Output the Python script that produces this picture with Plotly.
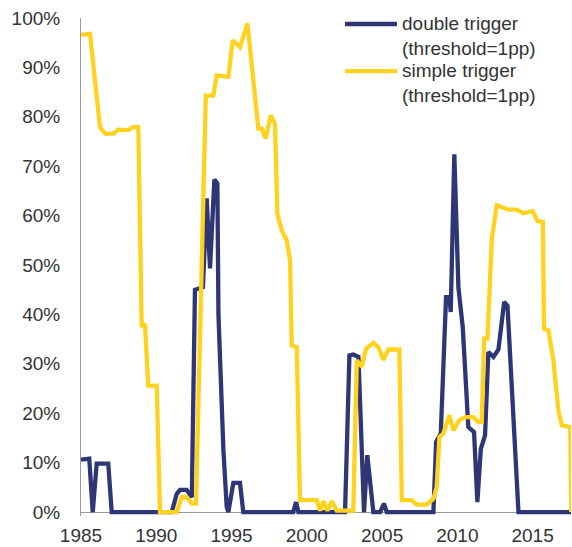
import plotly.graph_objects as go

# double trigger (threshold=1pp)
years_double = [1985.0, 1985.55, 1985.78, 1986.04, 1986.81, 1987.04, 1991.03, 1991.36, 1991.58,
                1992.02, 1992.36, 1992.57, 1993.1, 1993.35, 1993.57, 1993.86, 1994.06, 1994.13,
                1994.25, 1994.46, 1994.68, 1994.79, 1995.12, 1995.56, 1995.78, 1999.1, 1999.29,
                1999.44, 2002.54, 2002.83, 2003.09, 2003.43, 2003.8, 2004.02, 2004.42, 2004.87,
                2005.13, 2005.31, 2008.41, 2008.59, 2008.9, 2009.25, 2009.47, 2009.56, 2009.8,
                2010.07, 2010.36, 2010.73, 2011.11, 2011.33, 2011.56, 2011.84, 2012.06, 2012.4,
                2012.73, 2013.11, 2013.33, 2014.06, 2017.6]
values_double = [10.6, 10.8, 0, 9.8, 9.8, 0, 0, 3.7, 4.5,
                 4.5, 3.0, 45.0, 45.5, 63.5, 49.3, 67.3, 66.5, 40.0,
                 30.0, 12.5, 1.0, 0, 5.9, 5.9, 0, 0, 2.0,
                 0, 0, 31.7, 31.9, 31.4, 0, 11.5, 0, 0,
                 1.7, 0, 0, 14.2, 15.9, 43.5, 43.5, 40.5, 72.4,
                 45.5, 37.4, 17.2, 16.2, 2.0, 12.8, 15.5, 32.4, 31.4,
                 32.9, 42.5, 41.8, 0, 0]

# simple trigger (threshold=1pp)
years_simple = [1985.0, 1985.6, 1986.26, 1986.6, 1987.15, 1987.48, 1988.14, 1988.48, 1988.81,
                1989.03, 1989.25, 1989.47, 1990.03, 1990.25, 1991.36, 1991.69, 1992.02, 1992.36,
                1992.64, 1993.29, 1993.79, 1994.02, 1994.79, 1995.08, 1995.56, 1996.06, 1996.78,
                1997.01, 1997.27, 1997.6, 1997.89, 1998.04, 1998.34, 1998.67, 1998.89, 1999.0,
                1999.33, 1999.55, 2000.66, 2000.88, 2001.1, 2001.37, 2001.66, 2001.99, 2003.09,
                2003.32, 2003.65, 2003.94, 2004.42, 2004.75, 2005.09, 2005.42, 2006.15, 2006.31,
                2006.97, 2007.31, 2007.97, 2008.41, 2008.63, 2008.81, 2009.07, 2009.47, 2009.74,
                2010.14, 2010.52, 2011.07, 2011.4, 2011.62, 2011.78, 2012.0, 2012.29, 2012.62,
                2013.39, 2013.95, 2014.39, 2015.01, 2015.32, 2015.68, 2015.76, 2016.05, 2016.38,
                2016.71, 2016.94, 2017.5, 2017.56]
values_simple = [96.6, 96.8, 77.9, 76.6, 76.6, 77.4, 77.3, 77.9, 77.9,
                 37.5, 38.1, 25.6, 25.6, 0, 0, 3.0, 3.0, 1.7,
                 1.7, 84.3, 84.3, 88.4, 88.1, 95.5, 94.1, 98.9, 77.6,
                 77.6, 75.6, 80.3, 78.6, 60.4, 57.0, 55.0, 50.9, 33.7,
                 33.4, 2.4, 2.4, 0.3, 2.2, 0.3, 2.2, 0.3, 0.3,
                 30.7, 29.4, 33.1, 34.2, 33.4, 30.8, 32.9, 32.9, 2.4,
                 2.4, 1.5, 1.5, 2.7, 5.1, 15.2, 15.9, 19.6, 16.5,
                 18.6, 19.2, 19.2, 18.2, 18.2, 35.1, 35.1, 55.3, 62.1,
                 61.2, 61.2, 60.5, 60.9, 58.9, 58.7, 37.1, 36.8, 30.7,
                 20.6, 17.6, 17.2, 0]

series_names = ["double trigger<br>(threshold=1pp)", "simple trigger<br>(threshold=1pp)"]
x_ticks = [1985, 1990, 1995, 2000, 2005, 2010, 2015]
y_ticks = [0, 10, 20, 30, 40, 50, 60, 70, 80, 90, 100]

BLUE = "#2E3675"
YELLOW = "#FFD21F"
FONT = "Liberation Sans, Arial, sans-serif"
TXT = "#333333"

W, H = 572, 547
L, R, T, B = 81, 1, 18, 31.35
plot_w = W - L - R
plot_h = H - T - B


def px_to_paper(px, py):
    return (px - L) / plot_w, (H - B - py) / plot_h


fig = go.Figure()
fig.add_trace(go.Scatter(x=years_double, y=values_double, mode="lines",
                         line=dict(color=BLUE, width=4.3), showlegend=False))
fig.add_trace(go.Scatter(x=years_simple, y=values_simple, mode="lines",
                         line=dict(color=YELLOW, width=4.3), showlegend=False))

# manual legend
shapes = []
annotations = []
for i, (name, col) in enumerate(zip(series_names, [BLUE, YELLOW])):
    ly = 24 + i * 47
    x0, y0 = px_to_paper(345, ly)
    x1, _ = px_to_paper(397, ly)
    shapes.append(dict(type="line", xref="paper", yref="paper", x0=x0, x1=x1, y0=y0, y1=y0,
                       line=dict(color=col, width=4.3)))
    ax, ay = px_to_paper(400, ly + 11.7)
    annotations.append(dict(xref="paper", yref="paper", x=ax, y=ay, xanchor="left", yanchor="middle",
                            text=name, showarrow=False, align="left",
                            font=dict(family=FONT, size=19, color=TXT)))

fig.update_layout(
    width=W, height=H,
    margin=dict(l=L, r=R, t=T, b=B, pad=0, autoexpand=False),
    paper_bgcolor="white", plot_bgcolor="white",
    showlegend=False,
    shapes=shapes, annotations=annotations,
    font=dict(family=FONT, size=19, color=TXT),
)
fig.update_xaxes(range=[1985, 2017.55], tickvals=x_ticks, ticktext=[str(v) for v in x_ticks],
                 automargin=False,
                 showgrid=False, zeroline=False, showline=False, ticks="",
                 ticklabelstandoff=6, tickfont=dict(family=FONT, size=19, color=TXT))
fig.update_yaxes(range=[-0.8, 100], tickvals=y_ticks, ticktext=[f"{v}%" for v in y_ticks],
                 automargin=False,
                 showgrid=False, zeroline=True, zerolinecolor="#9a9a9a", zerolinewidth=1,
                 showline=True, linecolor="#9a9a9a", linewidth=1, ticks="",
                 ticklabelstandoff=16, layer="below traces",
                 tickfont=dict(family=FONT, size=19, color=TXT))

fig.write_html("out.html", config={"displayModeBar": False},
               post_script="document.body.style.margin='0';document.body.style.overflow='hidden';")
